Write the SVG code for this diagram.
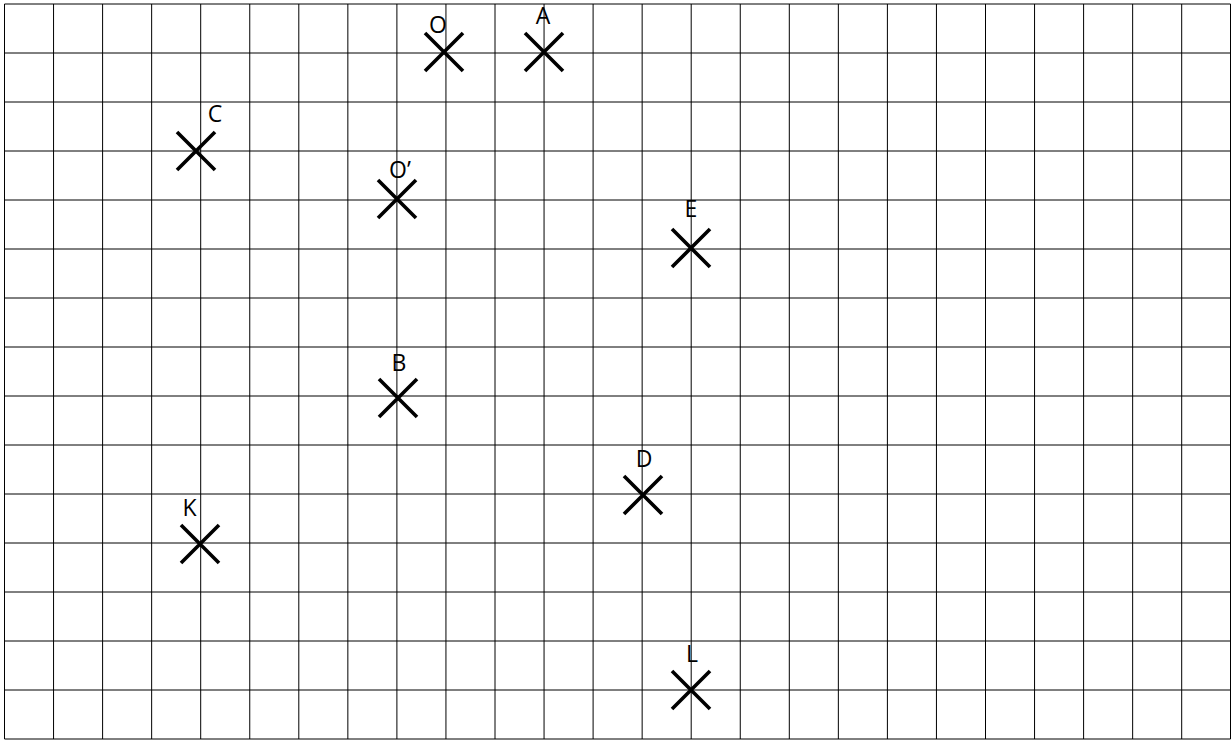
<svg xmlns="http://www.w3.org/2000/svg" width="1231" height="740" viewBox="0 0 1231 740">
<style>
.grid{stroke:#000;stroke-width:1;fill:none}
.x{stroke:#000;stroke-width:3.6;fill:none}
.lbl{font-family:"Open Sans","Liberation Sans",sans-serif;font-size:23px;fill:#000;text-anchor:middle}
</style>
<defs>
<path id="cross" class="x" d="M-19,-19L19,19M19,-19L-19,19"/>
</defs>
<rect width="1231" height="740" fill="#fff"/>
<g id="grid" class="grid">
<path d="M4.5,4V739M53.55,4V739M102.6,4V739M151.65,4V739M200.7,4V739M249.75,4V739M298.8,4V739M347.85,4V739M396.9,4V739M445.95,4V739M495,4V739M544.05,4V739M593.1,4V739M642.15,4V739M691.2,4V739M740.25,4V739M789.3,4V739M838.35,4V739M887.4,4V739M936.45,4V739M985.5,4V739M1034.55,4V739M1083.6,4V739M1132.65,4V739M1181.7,4V739M1230.5,4V739"/>
<path d="M4.5,4H1230.5M4.5,53H1230.5M4.5,102H1230.5M4.5,151H1230.5M4.5,200H1230.5M4.5,249H1230.5M4.5,298H1230.5M4.5,347H1230.5M4.5,396H1230.5M4.5,445H1230.5M4.5,494H1230.5M4.5,543H1230.5M4.5,592H1230.5M4.5,641H1230.5M4.5,690H1230.5M4.5,739H1230.5"/>
</g>
<g id="node-O"><use href="#cross" x="444" y="52"/><text class="lbl" x="438" y="33">O</text></g>
<g id="node-A"><use href="#cross" x="544" y="52"/><text class="lbl" x="543" y="24">A</text></g>
<g id="node-C"><use href="#cross" x="196" y="151"/><text class="lbl" x="215" y="122">C</text></g>
<g id="node-O2"><use href="#cross" x="397" y="199"/><text class="lbl" x="400" y="178">O’</text></g>
<g id="node-E"><use href="#cross" x="691" y="248"/><text class="lbl" x="691" y="217">E</text></g>
<g id="node-B"><use href="#cross" x="398" y="398"/><text class="lbl" x="399" y="371">B</text></g>
<g id="node-D"><use href="#cross" x="643" y="495"/><text class="lbl" x="644" y="467">D</text></g>
<g id="node-K"><use href="#cross" x="200" y="544"/><text class="lbl" x="189.5" y="516">K</text></g>
<g id="node-L"><use href="#cross" x="691" y="690"/><text class="lbl" x="692" y="662">L</text></g>
<g id="connectors"/>
</svg>
